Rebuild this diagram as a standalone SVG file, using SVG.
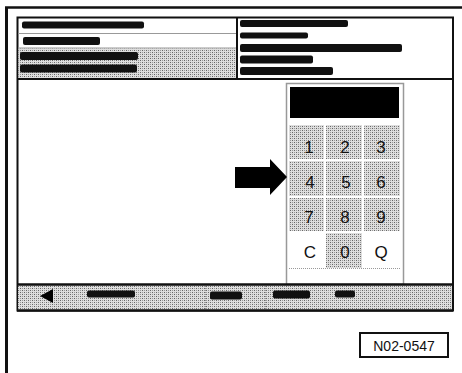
<svg xmlns="http://www.w3.org/2000/svg" width="462" height="373" viewBox="0 0 462 373">
  <defs>
    <pattern id="hatch" width="4" height="4" patternUnits="userSpaceOnUse">
      <rect width="4" height="4" fill="#dedede"/>
      <rect x="0" y="0" width="1" height="1" fill="#666"/>
      <rect x="2" y="2" width="1" height="1" fill="#666"/>
      <rect x="2" y="0" width="1" height="1" fill="#999"/>
      <rect x="0" y="2" width="1" height="1" fill="#999"/>
    </pattern>
  </defs>
  <style>
    .blob { fill: #111; }
    .key { fill: url(#hatch); }
    .num { font-family: "Liberation Sans", Arial, sans-serif; font-size: 17px; fill: #111; text-anchor: middle; }
    .sep { stroke: #999; stroke-width: 1; stroke-dasharray: 1 1; }
  </style>
  <rect width="462" height="373" fill="#fff"/>

  <g id="frame">
    <line x1="6.5" y1="7" x2="6.5" y2="373" stroke="#111" stroke-width="3"/>
    <line x1="5" y1="7.5" x2="462" y2="7.5" stroke="#111" stroke-width="2.5"/>
    <rect x="17.5" y="17.5" width="435.5" height="293" fill="#fff" stroke="#111" stroke-width="2"/>
  </g>

  <g id="header-left">
    <rect x="18.5" y="48.5" width="218" height="30" fill="url(#hatch)"/>
    <line x1="18" y1="33.5" x2="237" y2="33.5" stroke="#999" stroke-width="1"/>
    <line x1="18" y1="48" x2="237" y2="48" stroke="#999" stroke-width="1"/>
    <rect class="blob" x="22" y="21.5" width="122" height="7" rx="2"/>
    <rect class="blob" x="23" y="37" width="77" height="8" rx="2"/>
    <rect class="blob" x="20" y="52" width="118" height="8" rx="2"/>
    <rect class="blob" x="20" y="64.5" width="117" height="8" rx="2"/>
  </g>

  <g id="header-right">
    <line x1="237" y1="17" x2="237" y2="79" stroke="#111" stroke-width="2"/>
    <rect class="blob" x="240" y="20" width="108" height="7" rx="2"/>
    <rect class="blob" x="240" y="32.5" width="68" height="6" rx="2"/>
    <rect class="blob" x="240" y="44" width="162" height="8" rx="2"/>
    <rect class="blob" x="240" y="55.5" width="73" height="8" rx="2"/>
    <rect class="blob" x="240" y="67" width="93" height="8" rx="2"/>
  </g>
  <line x1="17" y1="79" x2="453" y2="79" stroke="#111" stroke-width="2"/>

  <g id="keypad">
    <rect x="286.5" y="83.5" width="117" height="201" fill="#fff" stroke="#999" stroke-width="1.5"/>
    <rect x="290" y="87" width="109" height="31" fill="#000"/>
    <rect class="key" x="289" y="125" width="35" height="34"/>
    <rect class="key" x="326" y="125" width="36" height="34"/>
    <rect class="key" x="364" y="125" width="36" height="34"/>
    <rect class="key" x="289" y="161" width="35" height="35"/>
    <rect class="key" x="326" y="161" width="36" height="35"/>
    <rect class="key" x="364" y="161" width="36" height="35"/>
    <rect class="key" x="289" y="198" width="35" height="33"/>
    <rect class="key" x="326" y="198" width="36" height="33"/>
    <rect class="key" x="364" y="198" width="36" height="33"/>
    <rect class="key" x="326" y="233" width="36" height="35"/>
    <line class="sep" x1="289" y1="268.5" x2="400" y2="268.5"/>
    <text class="num" x="309" y="153">1</text>
    <text class="num" x="345" y="153">2</text>
    <text class="num" x="381" y="153">3</text>
    <text class="num" x="310" y="188">4</text>
    <text class="num" x="346" y="188">5</text>
    <text class="num" x="381" y="188">6</text>
    <text class="num" x="309" y="223">7</text>
    <text class="num" x="345" y="223">8</text>
    <text class="num" x="381" y="223">9</text>
    <text class="num" x="310" y="258">C</text>
    <text class="num" x="345" y="258">0</text>
    <text class="num" x="381" y="258">Q</text>
  </g>

  <g id="connectors">
    <polygon points="235,167 270,167 270,159 287,177 270,195 270,188 235,188" fill="#000"/>
  </g>

  <g id="toolbar">
    <rect x="18" y="285" width="434" height="25" fill="url(#hatch)"/>
    <line x1="17" y1="284.5" x2="453" y2="284.5" stroke="#111" stroke-width="2.5"/>
    <line x1="17" y1="310.5" x2="453" y2="310.5" stroke="#111" stroke-width="2.5"/>
    <line class="sep" x1="78.5" y1="286" x2="78.5" y2="309"/>
    <line class="sep" x1="138.5" y1="286" x2="138.5" y2="309"/>
    <line class="sep" x1="205.5" y1="286" x2="205.5" y2="309"/>
    <line class="sep" x1="265.5" y1="286" x2="265.5" y2="309"/>
    <line class="sep" x1="328.5" y1="286" x2="328.5" y2="309"/>
    <line class="sep" x1="388.5" y1="286" x2="388.5" y2="309"/>
    <polygon points="40,296 53,289 53,303" fill="#000"/>
    <rect class="blob" x="87" y="290.5" width="48" height="7" rx="2"/>
    <rect class="blob" x="210" y="291.5" width="32" height="8" rx="2"/>
    <rect class="blob" x="273" y="290.5" width="37" height="8" rx="2"/>
    <rect class="blob" x="335" y="290.5" width="20" height="7" rx="2"/>
  </g>

  <g id="label">
    <rect x="360" y="333" width="88" height="24" fill="#fff" stroke="#111" stroke-width="2"/>
    <text x="404" y="350.5" font-family="'Liberation Sans', Arial, sans-serif" font-size="14" text-anchor="middle" fill="#111">N02-0547</text>
  </g>
</svg>
